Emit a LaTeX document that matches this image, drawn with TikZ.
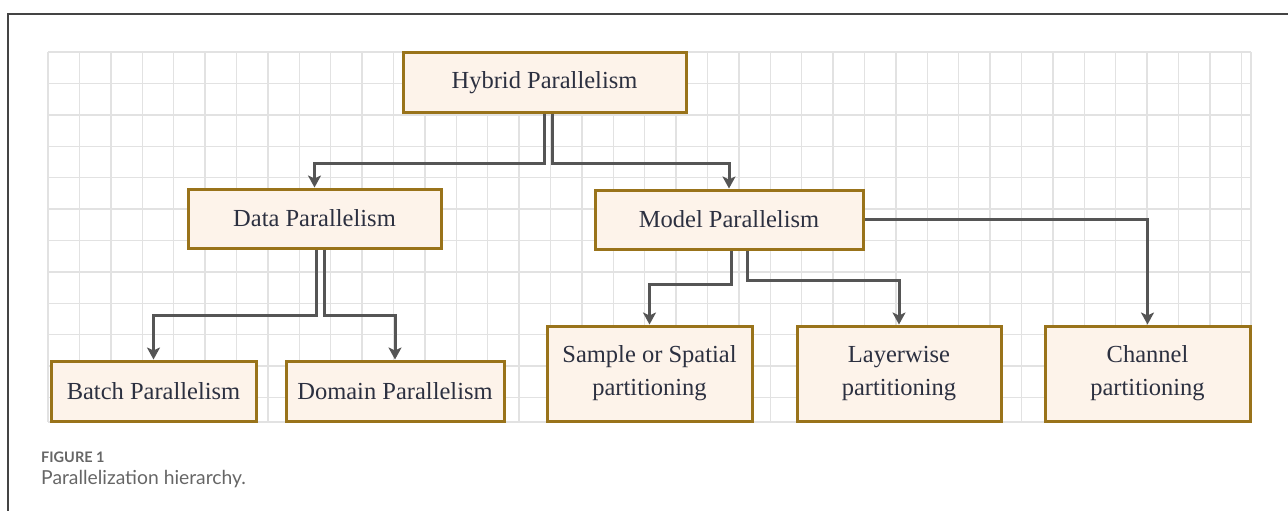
\documentclass[tikz,border=0pt]{standalone}
\usepackage{fontspec}
\setmainfont{Liberation Serif}
\newfontfamily\capfont{Lato}
\usetikzlibrary{arrows.meta,calc}
\definecolor{gridc}{HTML}{E2E2E2}
\definecolor{boxfill}{HTML}{FDF3EA}
\definecolor{boxdraw}{HTML}{99731A}
\definecolor{arrowc}{HTML}{555555}
\definecolor{txtc}{HTML}{2C3040}
\definecolor{capc}{HTML}{666666}
\definecolor{framec}{HTML}{444444}
\tikzset{
  box/.style={draw=boxdraw, line width=3pt, fill=boxfill, text=txtc, inner sep=0pt,
    font=\fontsize{24.5}{33}\selectfont, align=center},
  conn/.style={draw=arrowc, line width=3pt, -{Stealth[length=12pt,width=13pt,inset=3pt]}},
  gridline/.style={draw=gridc, line width=1.4pt},
}
\begin{document}
\begin{tikzpicture}[x=1pt,y=-1pt]
\useasboundingbox (0,0) rectangle (1288,511);
% frame
\draw[framec, line width=1.8pt] (8,511) -- (8,14) -- (1288,14);
% grid
\foreach \i in {0,...,38} { \draw[gridline] ({48+31.4*\i},52) -- ({48+31.4*\i},422); }
\draw[gridline] (1251,52) -- (1251,422);
\foreach \j in {0,...,11} { \draw[gridline] (48,{52+31.4*\j}) -- (1251,{52+31.4*\j}); }
\draw[gridline] (48,422) -- (1251,422);
% nodes
\node[box, minimum width=283pt, minimum height=59pt] (hyb) at (544.5,82.5) {Hybrid Parallelism};
\node[box, minimum width=253pt, minimum height=59pt] (data) at (314.5,218.5) {Data Parallelism};
\node[box, minimum width=268pt, minimum height=59pt] (model) at (729,219.5) {Model Parallelism};
\node[box, minimum width=205pt, minimum height=60pt] (batch) at (153.5,391) {Batch Parallelism};
\node[box, minimum width=218pt, minimum height=60pt] (domain) at (395,391) {Domain Parallelism};
\node[box, minimum width=205pt, minimum height=95pt] (sample) at (649.5,373.5) {Sample or Spatial\\partitioning};
\node[box, minimum width=204pt, minimum height=95pt] (layer) at (899,373.5) {Layerwise\\partitioning};
\node[box, minimum width=205pt, minimum height=95pt] (chan) at (1147.5,373.5) {Channel\\partitioning};
% connectors
\draw[conn] (hyb.south) -- ++(0,50) -| (data.north);
\draw[conn] ([xshift=8pt]hyb.south) -- ++(0,50) -| (model.north);
\draw[conn] ([xshift=1.5pt]data.south) -- ++(0,66) -| (batch.north);
\draw[conn] ([xshift=9.5pt]data.south) -- ++(0,66) -| (domain.north);
\draw[conn] ([xshift=2pt]model.south) -- ++(0,34) -| (sample.north);
\draw[conn] ([xshift=18pt]model.south) -- ++(0,30) -| (layer.north);
\draw[conn] (model.east) -| (chan.north);
% caption
\node[anchor=base west, inner sep=0pt, text=capc, font=\capfont\bfseries\fontsize{14.5}{16}\selectfont] (figlab) at (41,462) {FIGURE 1};
\node[anchor=base west, inner sep=0pt, text=capc, font=\capfont\fontsize{19.3}{22}\selectfont] (figcap) at (41,484) {Parallelization hierarchy.};
\end{tikzpicture}
\end{document}
